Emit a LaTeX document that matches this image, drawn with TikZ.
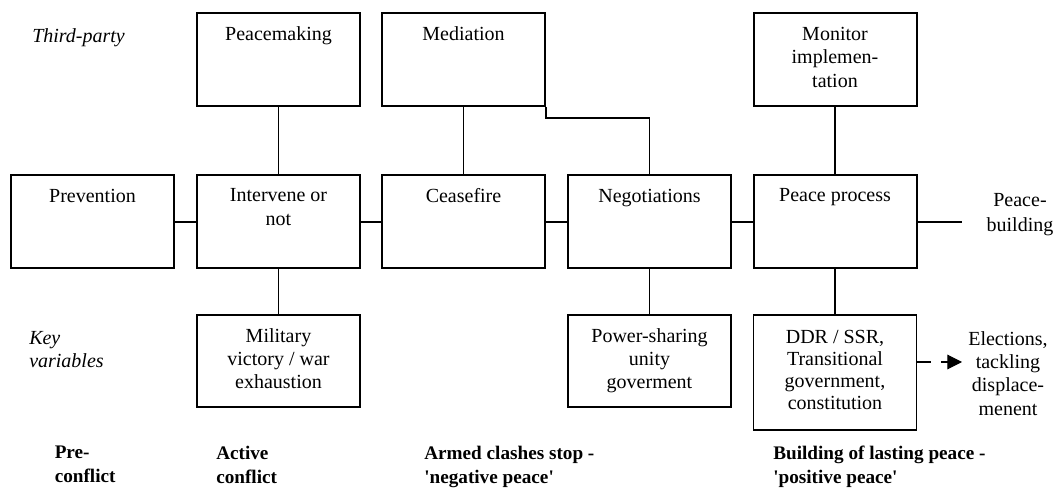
\documentclass[tikz,border=0pt]{standalone}
\usepackage{fontspec}
\setmainfont{Liberation Serif}[Ligatures=TeXOff]
\usetikzlibrary{arrows.meta,calc}
\def\pxu{0.75pt}
\begin{document}
\begin{tikzpicture}[x=0.75pt,y=-0.75pt,
  every node/.style={font=\fontsize{15}{17.5}\selectfont},
  tbox/.style={draw,line width=1.5pt,inner sep=0pt,minimum width=163*\pxu,minimum height=93*\pxu},
  bbox/.style={draw,line width=1.4pt,inner sep=0pt,minimum width=163*\pxu,minimum height=92*\pxu},
  txt/.style={anchor=north,inner sep=0pt,align=center,yshift=-14*\pxu},
  conn/.style={line width=0.8pt},
  dasharrow/.style={line width=0.8pt,dash pattern=on 10.5pt off 7.5pt,-{Triangle[length=11pt,width=11pt]}},
  plain/.style={inner sep=0pt,align=center},
  side/.style={anchor=north west,inner sep=0pt,align=left,font=\fontsize{15}{17.2}\selectfont\itshape},
  phase/.style={anchor=north west,inner sep=0pt,align=left,font=\fontsize{14.4}{18}\selectfont\bfseries}]
\useasboundingbox (0,0) rectangle (1061,488);

% third-party row
\node[tbox,label={[txt]north:Peacemaking}] (pm) at (278.5,59.5) {};
\node[tbox,label={[txt]north:Mediation}] (med) at (463.5,59.5) {};
\node[tbox,label={[txt,yshift=-0.8pt]north:{Monitor\\implemen-\\tation}}] (mon) at (835,59.5) {};

% main row
\node[tbox,label={[txt]north:Prevention}] (prev) at (92.5,222) {};
\node[tbox,label={[txt]north:{Intervene or\\not}}] (int) at (278.5,222) {};
\node[tbox,label={[txt]north:Ceasefire}] (cf) at (463.5,222) {};
\node[tbox,label={[txt]north:Negotiations}] (neg) at (649.5,222) {};
\node[tbox,label={[txt]north:Peace process}] (pp) at (835,222) {};

% key variables row
\node[bbox,label={[txt]north:{Military\\victory / war\\exhaustion}}] (mil) at (278.5,361) {};
\node[bbox,label={[txt]north:{Power-sharing\\unity\\goverment}}] (ps) at (649.5,361) {};
\node[bbox,minimum height=115*\pxu,label={[txt,yshift=-1.5pt,font=\fontsize{15}{16.6}\selectfont]north:{DDR / SSR,\\Transitional\\government,\\constitution}}] (ddr) at (835,372.5) {};

% free texts
\node[plain,anchor=north,font=\fontsize{15}{18.75}\selectfont] (pb) at (1020,193) {Peace-\\building};
\node[plain,anchor=north] (el) at (1008,331) {Elections,\\tackling\\displace-\\menent};
\coordinate (pbend) at (962,222);
\coordinate (aend) at (962,362);

% connectors
\draw[conn] (prev) -- (int);
\draw[conn] (int) -- (cf);
\draw[conn] (cf) -- (neg);
\draw[conn] (neg) -- (pp);
\draw[conn] (pp.east) -- (pbend);
\draw[conn] (pm) -- (int);
\draw[conn] (med) -- (cf);
\draw[conn] (med.south east) -- ++(0,11) -| (neg.north);
\draw[conn] (mon) -- (pp);
\draw[conn] (int) -- (mil);
\draw[conn] (neg) -- (ps);
\draw[conn] (pp) -- (ddr);
\draw[dasharrow] (ddr.east |- aend) -- (aend);

% side labels
\node[side] (tp) at (32,28) {Third-party};
\node[side] (kv) at (29,331.5) {Key\\variables};

% phase labels
\node[phase] (pre) at (54.5,445.5) {Pre-\\conflict};
\node[phase] (act) at (216,445.5) {Active\\conflict};
\node[phase] (arm) at (424,445.5) {Armed clashes stop -\\'negative peace'};
\node[phase] (bld) at (773,445.5) {Building of lasting peace -\\'positive peace'};
\end{tikzpicture}
\end{document}
